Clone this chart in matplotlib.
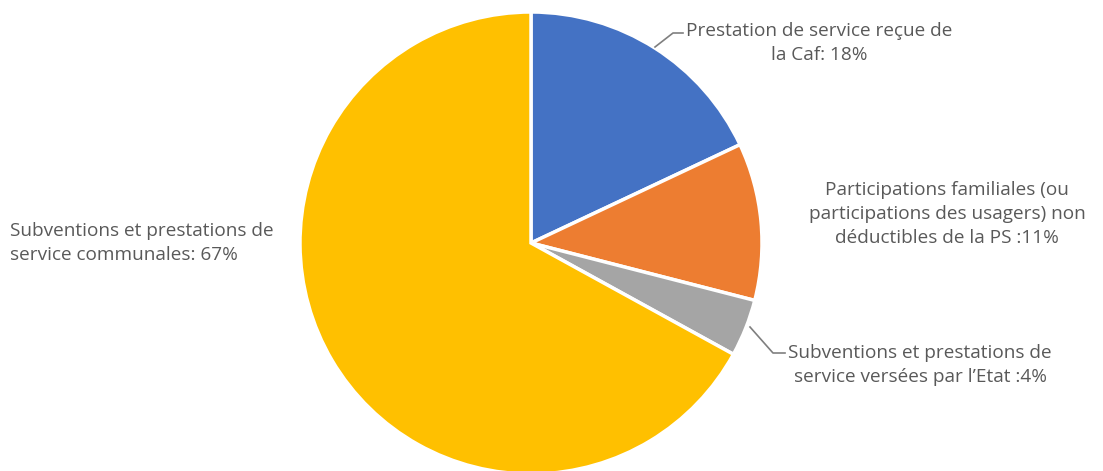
import matplotlib.pyplot as plt

# parts of the budget, clockwise from the top
parts = [
    "Prestation de service reçue de\nla Caf: 18%",
    "Participations familiales (ou\nparticipations des usagers) non\ndéductibles de la PS :11%",
    "Subventions et prestations de\nservice versées par l\u2019Etat :4%",
    "Subventions et prestations de\nservice communales: 67%",
]
shares = [18, 11, 4, 67]
colors = ["#4472C4", "#ED7D31", "#A5A5A5", "#FFC000"]

W, H = 1103, 471
fig = plt.figure(figsize=(W / 100, H / 100), dpi=100)
ax = fig.add_axes([0, 0, 1, 1])

cx, cy, r = 531, H - 243, 231
ax.pie(shares, colors=colors, startangle=90, counterclock=False,
       radius=r, center=(cx, cy), frame=True,
       wedgeprops=dict(edgecolor="white", linewidth=2.5))
ax.set_xlim(0, W)
ax.set_ylim(0, H)
ax.set_aspect("equal")
ax.axis("off")

txt = dict(color="#595959", fontsize=13.7, family="Open Sans", linespacing=1.4)
ax.text(819, H - 43, parts[0], ha="center", va="center", multialignment="center", **txt)
ax.text(947, H - 214, parts[1], ha="center", va="center", multialignment="center", **txt)
ax.text(920, H - 365, parts[2], ha="center", va="center", multialignment="center", **txt)
ax.text(10, H - 243, parts[3], ha="left", va="center", multialignment="left", **txt)

# leader lines
lc = dict(color="#7F7F7F", linewidth=1.2)
ax.plot([655, 673, 683], [H - 47, H - 33, H - 33], **lc)
ax.plot([750, 773, 785], [H - 327, H - 353, H - 353], **lc)

fig.savefig("out.png", dpi=100)
